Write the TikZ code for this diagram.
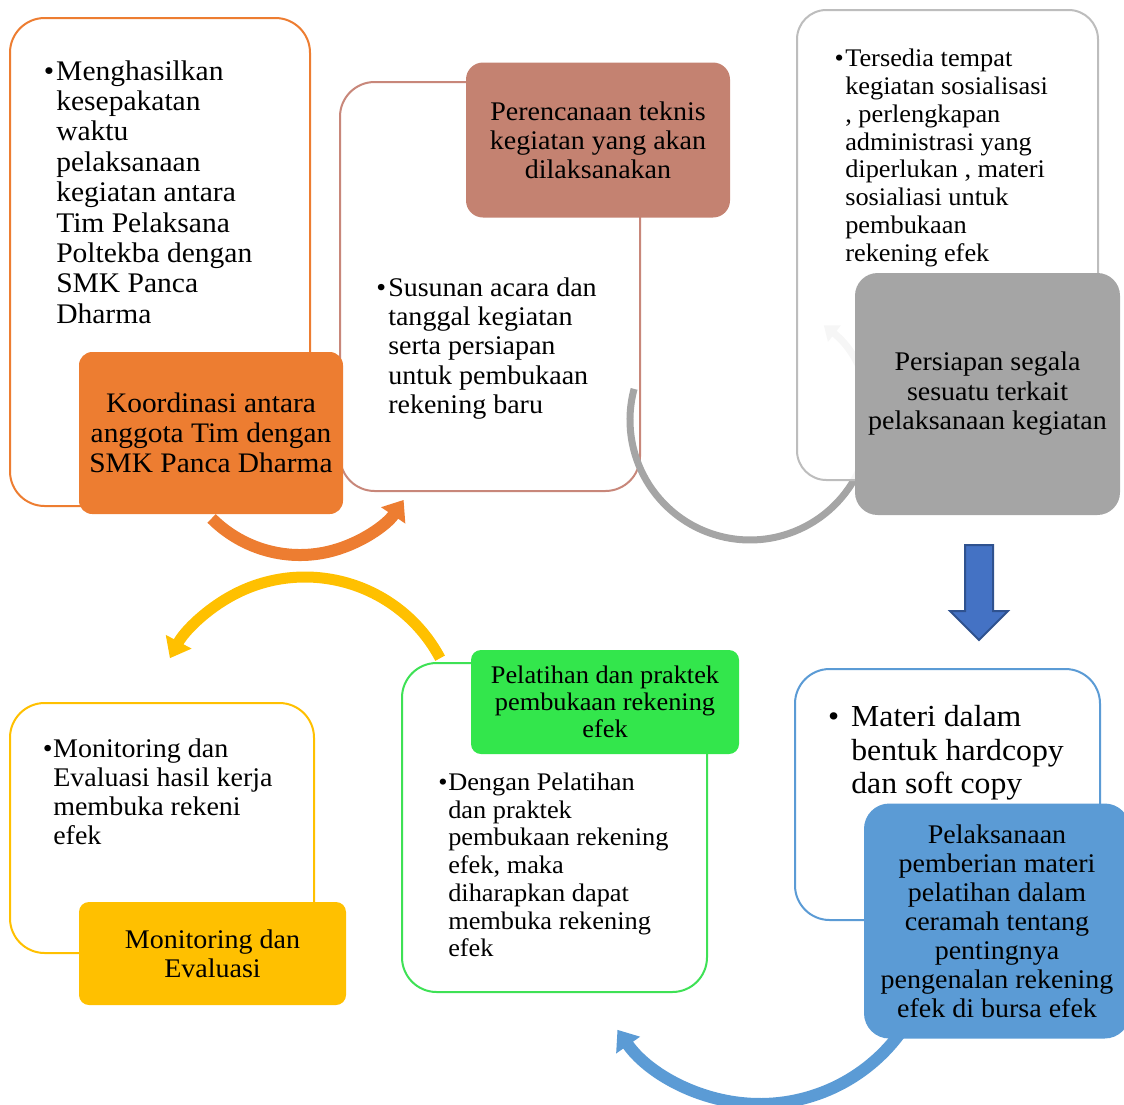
\documentclass[tikz,border=0pt]{standalone}
\usepackage{fontspec}
\setmainfont{Liberation Serif}[FakeStretch=1.04]
\usetikzlibrary{arrows.meta}
\definecolor{orangeC}{HTML}{ED7D31}
\definecolor{brownF}{HTML}{C48271}
\definecolor{brownO}{HTML}{C8877A}
\definecolor{grayF}{HTML}{A5A5A5}
\definecolor{grayO}{HTML}{BDBDBD}
\definecolor{yellowC}{HTML}{FFC000}
\definecolor{greenF}{HTML}{33E64C}
\definecolor{greenO}{HTML}{3EE155}
\definecolor{blueF}{HTML}{5B9BD5}
\definecolor{arrowB}{HTML}{4472C4}
\definecolor{arrowBd}{HTML}{2F528F}
\newcommand\fsz[2]{\fontsize{#1}{#2}\selectfont}
\newcommand\bul[1]{\llap{\textbullet\hspace{#1}}}
\begin{document}
\begin{tikzpicture}[x=0.75pt,y=-0.75pt,
  obox/.style={draw, line width=1.5pt, fill=white, inner sep=0pt, rounded corners=26pt},
  fbox/.style={inner sep=0pt, align=center, text=black},
  btext/.style={inner sep=0pt, align=left, anchor=west, text=black},
  bigarc/.style={line width=9pt, -{Triangle[length=14pt,width=21pt]}}
  ]
\useasboundingbox (0,0) rectangle (1124,1104);
% ---- box 1
\node[obox, draw=orangeC, minimum width=225pt, minimum height=366pt] (b1) at (160,262) {};
\node[btext, font=\fsz{21.3pt}{22.8pt}] (t1) at (56,192) {\bul{1.5pt}Menghasilkan\\kesepakatan\\waktu\\pelaksanaan\\kegiatan antara\\Tim Pelaksana\\Poltekba dengan\\SMK Panca\\Dharma};
% ---- box 2
\node[obox, draw=brownO, minimum width=225pt, minimum height=306.75pt] (b2) at (490,286.5) {};
\node[btext, font=\fsz{20.2pt}{21.9pt}] (t2) at (388,348.5) {\bul{1.5pt}Susunan acara dan\\tanggal kegiatan\\serta persiapan\\untuk pembukaan\\rekening baru};
% orange arc
\coordinate (oS) at (211.6,518.4);
\draw[orangeC, bigarc] (oS) arc[start angle=-135, end angle=-34, radius=93.75pt];
\node[fbox, fill=orangeC, rounded corners=10pt, minimum width=198pt, minimum height=121.5pt, font=\fsz{21.2pt}{22.5pt}] (f1) at (211,433) {Koordinasi antara\\anggota Tim dengan\\SMK Panca Dharma};
\node[fbox, fill=brownF, rounded corners=12.75pt, minimum width=198pt, minimum height=116.25pt, font=\fsz{20.2pt}{21.75pt}] (f2) at (598,140) {Perencanaan teknis\\kegiatan yang akan\\dilaksanakan};
% ---- gray arc and box 3
\coordinate (gS) at (634.1,388.9);
\draw[grayF, line width=5.25pt, -{Triangle[length=10pt,width=15pt]}] (gS) arc[start angle=-195, end angle=52, radius=90pt];
\node[obox, draw=grayO, fill opacity=0.9, draw opacity=1, text opacity=1, rounded corners=22pt, minimum width=225.75pt, minimum height=352.5pt] (b3) at (947.5,245) {};
\node[btext, font=\fsz{19pt}{20.8pt}] (t3) at (845,158) {\bul{1pt}Tersedia tempat\\kegiatan sosialisasi\\, perlengkapan\\administrasi yang\\diperlukan , materi\\sosialiasi untuk\\pembukaan\\rekening efek};
\node[fbox, fill=grayF, rounded corners=17pt, minimum width=198.75pt, minimum height=181.5pt, font=\fsz{20.2pt}{22.1pt}] (f3) at (987.5,394) {Persiapan segala\\sesuatu terkait\\pelaksanaan kegiatan};
% blue block arrow
\draw[fill=arrowB, draw=arrowBd, line width=1.5pt, line join=miter] (965,545) -- (993,545) -- (993,611) -- (1008,611) -- (979,640) -- (950,611) -- (965,611) -- cycle;
% ---- box 4
\node[obox, draw=yellowC, minimum width=228pt, minimum height=187.5pt] (b4) at (162,828) {};
\node[btext, font=\fsz{20.2pt}{21.75pt}] (t4) at (53,792) {\bul{0.5pt}Monitoring dan\\Evaluasi hasil kerja\\membuka rekeni\\efek};
\node[fbox, fill=yellowC, rounded corners=7.5pt, minimum width=200.25pt, minimum height=77.25pt, font=\fsz{20.2pt}{21.75pt}] (f4) at (212.5,953.5) {Monitoring dan\\Evaluasi};
% yellow arc
\coordinate (yS) at (440.1,658.2);
\draw[yellowC, bigarc, line width=8.25pt] (yS) arc[start angle=28, end angle=152, radius=114.75pt];
% ---- box 5
\node[obox, draw=greenO, minimum width=228.75pt, minimum height=246.75pt] (b5) at (554.5,827.5) {};
\node[btext, font=\fsz{19pt}{20.8pt}] (t5) at (448,865) {\bul{0.5pt}Dengan Pelatihan\\dan praktek\\pembukaan rekening\\efek, maka\\diharapkan dapat\\membuka rekening\\efek};
\node[fbox, fill=greenF, rounded corners=7.5pt, minimum width=201pt, minimum height=78pt, font=\fsz{19pt}{20.25pt}] (f5) at (605,702) {Pelatihan dan praktek\\pembukaan rekening\\efek};
% ---- box 6
\node[obox, draw=blueF, minimum width=228.75pt, minimum height=188.25pt] (b6) at (947.5,794.5) {};
\node[btext, font=\fsz{22.9pt}{25pt}] (t6) at (851,753) {\bul{9pt}Materi dalam\\bentuk hardcopy\\dan soft copy};
% blue arc
\coordinate (uS) at (902.5,1029.8);
\draw[blueF, bigarc] (uS) arc[start angle=-35, end angle=-145, radius=130.5pt];
\node[fbox, fill=blueF, rounded corners=19pt, minimum width=199.5pt, minimum height=176.25pt, font=\fsz{20.2pt}{21.75pt}] (f6) at (997,921) {Pelaksanaan\\pemberian materi\\pelatihan dalam\\ceramah tentang\\pentingnya\\pengenalan rekening\\efek di bursa efek};
\end{tikzpicture}
\end{document}
